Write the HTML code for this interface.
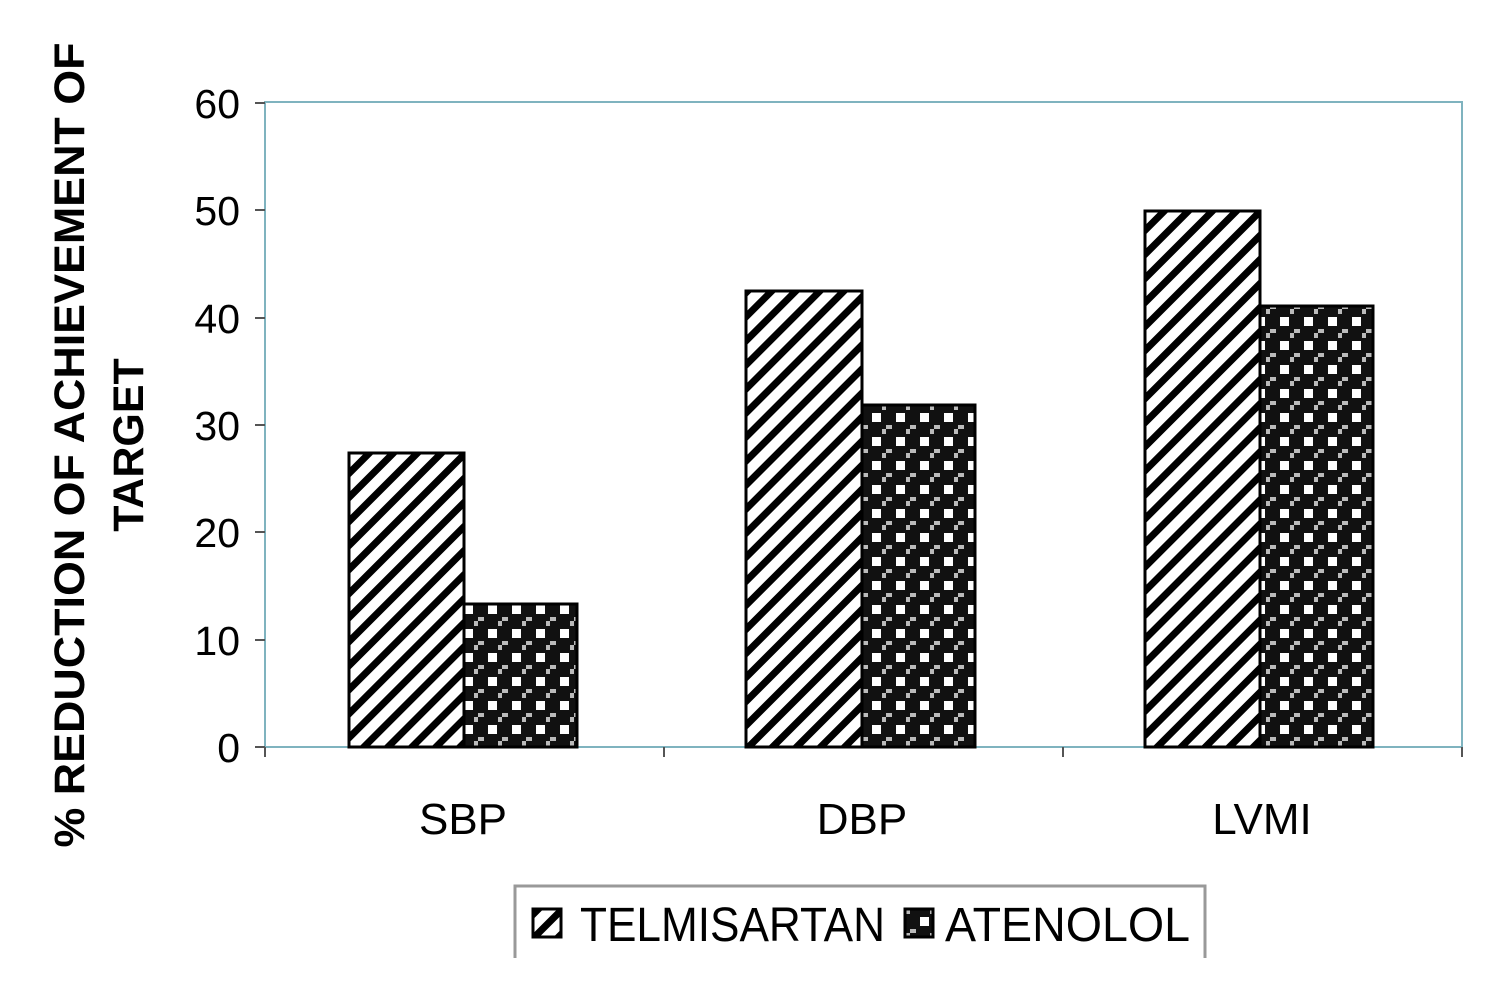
<!DOCTYPE html>
<html><head><style>body{margin:0;background:#fff}svg{display:block}</style></head><body>
<svg width="1494" height="991" viewBox="0 0 1494 991" xmlns="http://www.w3.org/2000/svg" font-family="Liberation Sans, sans-serif">
<defs>
<pattern id="diag" width="17" height="17" patternUnits="userSpaceOnUse" patternTransform="rotate(45)">
<rect width="17" height="17" fill="#fff"/><rect x="0" y="0" width="7" height="17" fill="#000"/>
</pattern>
<pattern id="dots" width="24" height="24" patternUnits="userSpaceOnUse" x="862" y="405">
<rect width="24" height="24" fill="#111"/>
<rect x="10" y="8" width="9" height="9" fill="#fff"/>
<rect x="0" y="20" width="6" height="4" fill="#bbb"/>
<rect x="20" y="0" width="4" height="5" fill="#bbb"/>
</pattern>
</defs>
<rect x="265" y="102" width="1197" height="645" fill="none" stroke="#7fb3bf" stroke-width="2"/>
<g stroke="#555" stroke-width="2">
<line x1="255" y1="103" x2="265" y2="103"/><line x1="255" y1="210" x2="265" y2="210"/><line x1="255" y1="318" x2="265" y2="318"/><line x1="255" y1="425" x2="265" y2="425"/><line x1="255" y1="532" x2="265" y2="532"/><line x1="255" y1="640" x2="265" y2="640"/><line x1="255" y1="747" x2="265" y2="747"/>
<line x1="265" y1="747" x2="265" y2="757"/><line x1="664" y1="747" x2="664" y2="757"/><line x1="1063" y1="747" x2="1063" y2="757"/><line x1="1462" y1="747" x2="1462" y2="757"/>
</g>
<g font-size="41" text-anchor="end" fill="#000">
<text x="240" y="118">60</text><text x="240" y="225">50</text><text x="240" y="333">40</text><text x="240" y="440">30</text><text x="240" y="547">20</text><text x="240" y="655">10</text><text x="240" y="762">0</text>
</g>
<g stroke="#000" stroke-width="3">
<rect x="349" y="453" width="115" height="294" fill="url(#diag)"/>
<rect x="464" y="604" width="113" height="143" fill="url(#dots)"/>
<rect x="746" y="291" width="116" height="456" fill="url(#diag)"/>
<rect x="862" y="405" width="113" height="342" fill="url(#dots)"/>
<rect x="1145" y="211" width="115" height="536" fill="url(#diag)"/>
<rect x="1260" y="306" width="113" height="441" fill="url(#dots)"/>
</g>
<g font-size="44" text-anchor="middle">
<text x="463" y="834">SBP</text><text x="862" y="834">DBP</text><text x="1262" y="834">LVMI</text>
</g>
<g font-size="43" font-weight="bold" text-anchor="middle">
<text transform="translate(84,445) rotate(-90)" textLength="805" lengthAdjust="spacingAndGlyphs">% REDUCTION OF ACHIEVEMENT OF</text>
<text transform="translate(143,445) rotate(-90)">TARGET</text>
</g>
<path d="M515 958 V886 H1205 V958" fill="none" stroke="#999" stroke-width="3"/>
<rect x="533" y="909" width="28" height="28" fill="url(#diag)" stroke="#000" stroke-width="3"/>
<rect x="905" y="909" width="28" height="28" fill="url(#dots)" stroke="#000" stroke-width="3"/>
<g font-size="48"><text x="580" y="941" textLength="305" lengthAdjust="spacingAndGlyphs">TELMISARTAN</text>
<text x="945" y="941" textLength="245" lengthAdjust="spacingAndGlyphs">ATENOLOL</text></g>
</svg>
</body></html>
